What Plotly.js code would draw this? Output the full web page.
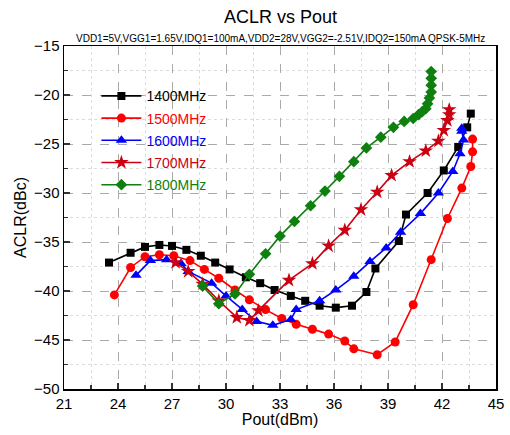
<!DOCTYPE html>
<html><head><meta charset="utf-8">
<script src="https://cdn.plot.ly/plotly-3.0.1.min.js"></script>
<style>body{margin:0;background:#fff}#c{width:510px;height:435px}</style>
</head><body><div id="c"></div>
<script>
const names = ['1400MHz','1500MHz','1600MHz','1700MHz','1800MHz'];
const colors = ['#000000','#ff0000','#0000ff','#cc0011','#0f800f'];
const symbols = ['square','circle','triangle-up','star','diamond'];
const sizes = [8,9,10,11,9];

const x1400 = [23.5,24.7,25.5,26.3,27.0,27.8,28.6,29.4,30.2,31.1,31.9,32.7,33.6,34.4,35.2,36.1,37.0,37.8,38.3,39.6,40.0,41.2,42.1,42.9,43.4,43.6];
const y1400 = [-37.1,-36.1,-35.5,-35.3,-35.4,-35.8,-36.4,-37.1,-37.8,-38.6,-39.2,-39.9,-40.5,-41.0,-41.5,-41.7,-41.5,-40.1,-37.7,-34.9,-32.2,-30.0,-27.7,-25.3,-23.3,-21.9];

const x1500 = [23.8,24.7,25.5,26.3,27.1,28.0,28.8,29.6,30.5,31.3,32.2,33.1,33.9,34.8,35.7,36.6,37.1,38.4,39.4,40.4,41.4,42.3,43.1,43.6,43.7,43.7];
const y1500 = [-40.4,-37.6,-36.5,-36.3,-36.4,-36.9,-37.8,-38.7,-39.9,-40.9,-41.9,-42.8,-43.4,-43.9,-44.4,-45.1,-45.9,-46.5,-45.2,-41.4,-36.8,-32.6,-29.5,-27.3,-25.8,-24.5];

const x1600 = [25.0,25.8,26.7,27.5,27.9,29.2,30.0,30.9,31.7,32.6,33.6,33.9,35.2,36.1,37.1,38.0,38.9,39.7,40.8,41.8,42.6,43.0,43.2,43.1,43.1];
const y1600 = [-38.4,-36.9,-36.8,-37.2,-38.0,-39.2,-40.5,-41.9,-43.1,-43.5,-42.9,-41.9,-41.0,-39.9,-38.5,-37.0,-35.6,-34.0,-32.1,-30.0,-27.8,-26.0,-24.6,-23.7,-23.4];

const x1700 = [27.2,27.9,28.7,29.6,30.6,31.3,31.8,33.5,34.8,35.7,36.6,37.5,38.4,39.2,40.2,41.1,41.8,42.1,42.3,42.4,42.4];
const y1700 = [-37.1,-38.0,-39.3,-41.0,-42.7,-43.0,-42.0,-38.9,-37.2,-35.4,-33.8,-31.7,-29.9,-28.2,-26.8,-25.7,-24.7,-23.6,-22.6,-22.0,-21.5];

const x1800 = [28.7,29.6,30.5,31.3,32.2,33.0,33.8,34.7,35.5,36.3,37.1,37.8,38.6,39.3,39.9,40.4,40.7,40.9,41.1,41.2,41.3,41.4,41.4,41.4,41.4];
const y1800 = [-39.5,-41.3,-40.3,-38.3,-36.2,-34.4,-32.9,-31.3,-29.8,-28.3,-26.8,-25.4,-24.3,-23.3,-22.7,-22.4,-22.0,-21.7,-21.4,-20.9,-20.3,-19.7,-19.0,-18.3,-17.6];

const xs = [x1400,x1500,x1600,x1700,x1800];
const ys = [y1400,y1500,y1600,y1700,y1800];

const traces = names.map((n,i)=>({
  type:'scatter', mode:'lines+markers', x:xs[i], y:ys[i],
  name:'<span style="color:'+colors[i]+'">'+n+'</span>',
  legendgroup:'g'+i,
  line:{color:colors[i], width:1.6},
  marker:{color:colors[i], symbol:symbols[i], size:sizes[i], line:{width:0}}
}));

const axisBase = {
  showline:true, linecolor:'#000', linewidth:1.5, mirror:true,
  ticks:'inside', ticklen:6, tickwidth:1.5, tickcolor:'#333',
  showgrid:true, gridcolor:'#aaaaaa', griddash:'dash', gridwidth:1,
  zeroline:false,
  tickfont:{family:'Arial, Liberation Sans, sans-serif', size:15, color:'#000'}
};

const layout = {
  width:510, height:435,
  margin:{l:64, r:14, t:46, b:46},
  paper_bgcolor:'#fff', plot_bgcolor:'#fff',
  font:{family:'Arial, Liberation Sans, sans-serif', color:'#000'},
  title:{text:'ACLR vs Pout', x:0.55, xanchor:'center', y:0.961, yanchor:'middle',
         font:{size:18, color:'#000'}},
  showlegend:true,
  legend:{x:0.075, y:0.9, xanchor:'left', yanchor:'top', bgcolor:'rgba(0,0,0,0)',
          font:{size:14}, tracegroupgap:1, itemwidth:40},
  xaxis:Object.assign({}, axisBase, {
    range:[21,45], tick0:21, dtick:3,
    minor:{dtick:1.5, ticks:'inside', ticklen:4, tickcolor:'#333', showgrid:true, gridcolor:'#dddddd', griddash:'dot'},
    title:{text:'Pout(dBm)', font:{size:16}, standoff:2}
  }),
  yaxis:Object.assign({}, axisBase, {
    range:[-50,-15], tick0:-50, dtick:5,
    minor:{dtick:2.5, ticks:'inside', ticklen:4, tickcolor:'#333', showgrid:true, gridcolor:'#dddddd', griddash:'dot'},
    title:{text:'ACLR(dBc)', font:{size:16}, standoff:3}
  }),
  annotations:[{
    text:'VDD1=5V,VGG1=1.65V,IDQ1=100mA,VDD2=28V,VGG2=-2.51V,IDQ2=150mA QPSK-5MHz',
    xref:'paper', yref:'paper', x:0.5, y:1, xanchor:'center', yanchor:'bottom', yshift:0,
    showarrow:false, font:{size:10, color:'#000'}
  }]
};

Plotly.newPlot('c', traces, layout, {displayModeBar:false, staticPlot:true});
</script>
</body></html>
